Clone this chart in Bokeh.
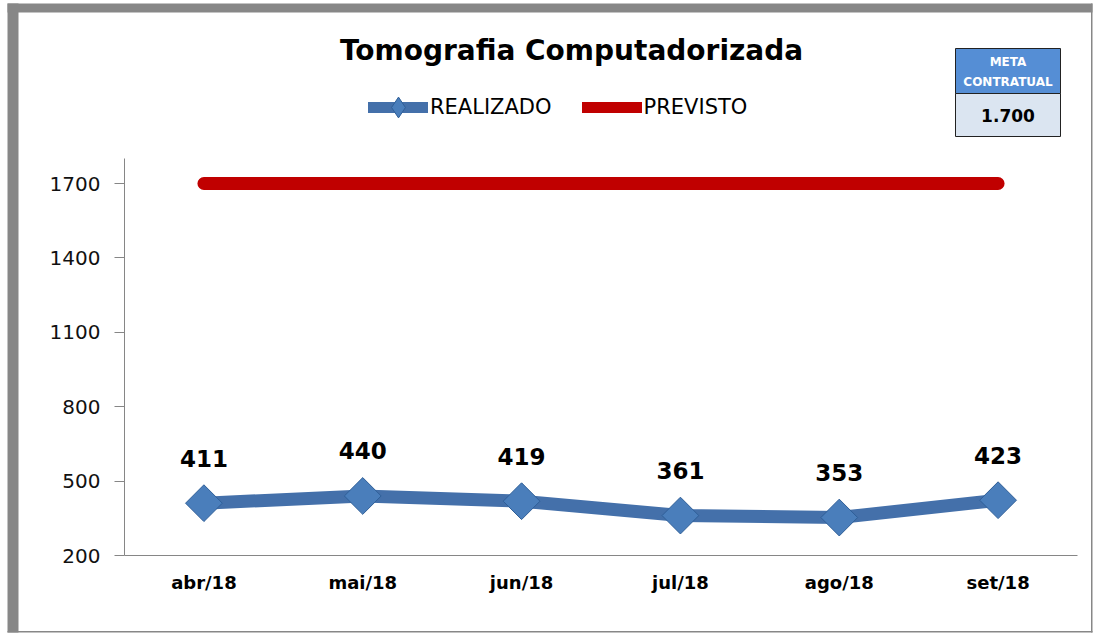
from math import pi
from bokeh.plotting import figure
from bokeh.models import (FixedTicker, Legend, LegendItem, BoxAnnotation,
                          Label, Range1d)
from bokeh.embed import file_html
from bokeh.resources import INLINE
from bokeh.core.properties import value

# ---- data ----
months = ["abr/18", "mai/18", "jun/18", "jul/18", "ago/18", "set/18"]
realizado = [411, 440, 419, 361, 353, 423]
previsto = [1700, 1700, 1700, 1700, 1700, 1700]
y_ticks = [200, 500, 800, 1100, 1400, 1700]
meta_title = ["META", "CONTRATUAL"]
meta_value = "1.700"
chart_title = "Tomografia Computadorizada"
legend_labels = ["REALIZADO", "PREVISTO"]

xpos = list(range(len(months)))

# ---- geometry (canvas pixels) ----
W, H = 1093, 633
AX_L, AX_R = 124, 1077          # x-axis line extent
AX_B = 555                        # y pixel of value 200
PX_PER_Y = 74.4 / 300.0
px_per_cat = (AX_R - AX_L) / len(months)
x_start = -0.5 - AX_L / px_per_cat
x_end = len(months) - 0.5 + (W - AX_R) / px_per_cat
y_start = 200 - (H - AX_B) / PX_PER_Y
y_end = 200 + AX_B / PX_PER_Y

p = figure(width=W, height=H, x_range=Range1d(x_start, x_end),
           y_range=Range1d(y_start, y_end), output_backend="svg",
           toolbar_location=None, min_border=0)
p.min_border_left = p.min_border_right = 0
p.min_border_top = p.min_border_bottom = 0

p.grid.visible = False
p.outline_line_color = None
p.background_fill_color = "white"
p.border_fill_color = "white"

# axes (fixed inside the frame)
xa = p.xaxis[0]
xa.fixed_location = 200
xa.bounds = (-0.5, len(months) - 0.5)
xa.ticker = FixedTicker(ticks=xpos)
xa.major_label_overrides = {i: m for i, m in zip(xpos, months)}
xa.axis_line_color = "#868686"
xa.major_tick_line_color = None
xa.minor_tick_line_color = None
xa.major_label_text_font = "DejaVu Sans"
xa.major_label_text_font_size = "18px"
xa.major_label_text_font_style = "bold"
xa.major_label_text_color = "#000000"
xa.major_label_standoff = 10

ya = p.yaxis[0]
ya.fixed_location = -0.5
ya.bounds = (200, 1800)
ya.ticker = FixedTicker(ticks=y_ticks)
ya.axis_line_color = "#868686"
ya.major_tick_line_color = "#868686"
ya.major_tick_out = 10
ya.major_tick_in = 0
ya.minor_tick_line_color = None
ya.major_label_text_font = "DejaVu Sans"
ya.major_label_text_font_size = "20px"
ya.major_label_text_color = "#111111"
ya.major_label_standoff = 14

# series
BLUE = "#4470aa"
RED = "#c00000"
rl = p.line(xpos, previsto, line_color=RED, line_width=13, line_cap="round")
bl = p.line(xpos, realizado, line_color=BLUE, line_width=13,
            line_join="round")
dm = p.scatter(xpos, realizado, marker="square", angle=pi / 4, size=26,
               fill_color="#4a7ebb", line_color="#2f5f98", line_width=1)
p.text(x=xpos, y=realizado, text=[str(v) for v in realizado],
       text_align="center", text_baseline="middle", y_offset=-45,
       text_font=value("DejaVu Sans"), text_font_size="23px",
       text_font_style="bold", text_color="#000000")

# hidden copies used only for the legend swatches
bl_leg = p.line(xpos, realizado, line_color=BLUE, line_width=11,
                line_cap="round", visible=False)
dm_leg = p.scatter(xpos, realizado, marker="diamond", fill_color="#4a7ebb",
                   line_color="#2f5f98", line_width=1, visible=False)
rl_leg = p.line(xpos, previsto, line_color=RED, line_width=11,
                line_cap="round", visible=False)

# title
p.add_layout(Label(x=571, y=H - 50, x_units="screen", y_units="screen",
                   text=chart_title, text_align="center",
                   text_baseline="middle", text_font="DejaVu Sans",
                   text_font_size="28px", text_font_style="bold",
                   text_color="#000000"))

# legend (location = lower-left corner, y measured up from the bottom)
GH = 52
legend = Legend(items=[LegendItem(label=legend_labels[0],
                                  renderers=[bl_leg, dm_leg]),
                       LegendItem(label=legend_labels[1], renderers=[rl_leg])],
                orientation="horizontal", location=(368, H - 107 - GH / 2),
                glyph_width=60, glyph_height=GH, label_height=GH,
                label_standoff=2, spacing=30, padding=0, margin=0,
                border_line_color=None, background_fill_alpha=0,
                inactive_fill_alpha=0,
                label_text_font="DejaVu Sans", label_text_font_size="21px",
                label_text_color="#000000")
p.add_layout(legend)

# boxes in screen units (y measured up from the bottom)
def sbox(l, r, b, t, **kw):
    return BoxAnnotation(left=l, right=r, bottom=b, top=t,
                         left_units="screen", right_units="screen",
                         bottom_units="screen", top_units="screen",
                         fill_alpha=1, line_alpha=1, **kw)

# meta box
p.add_layout(sbox(955, 1060, H - 93, H - 48, fill_color="#558ed5",
                  line_color="#222222", line_width=1))
p.add_layout(sbox(955, 1060, H - 136, H - 93, fill_color="#dbe5f1",
                  line_color="#222222", line_width=1))
for txt, yy in zip(meta_title, [61, 81]):
    p.add_layout(Label(x=1007.5, y=H - yy, x_units="screen", y_units="screen",
                       text=txt, text_align="center", text_baseline="middle",
                       text_color="white", text_font="DejaVu Sans",
                       text_font_size="12px", text_font_style="bold"))
p.add_layout(Label(x=1007.5, y=H - 115, x_units="screen", y_units="screen",
                   text=meta_value, text_align="center",
                   text_baseline="middle", text_color="#000000",
                   text_font="DejaVu Sans", text_font_size="17px",
                   text_font_style="bold"))

# outer grey frame of the chart area
g = "#878787"
p.add_layout(sbox(7, 18, H - 632, H - 3, fill_color=g, line_color=None))
p.add_layout(sbox(7, 1092, H - 12, H - 3, fill_color=g, line_color=None))
p.add_layout(sbox(1090.5, 1092, H - 632, H - 3, fill_color=g, line_color=None))
p.add_layout(sbox(7, 1092, H - 632, H - 630.5, fill_color=g, line_color=None))

open("out.html", "w").write(file_html(p, INLINE))
